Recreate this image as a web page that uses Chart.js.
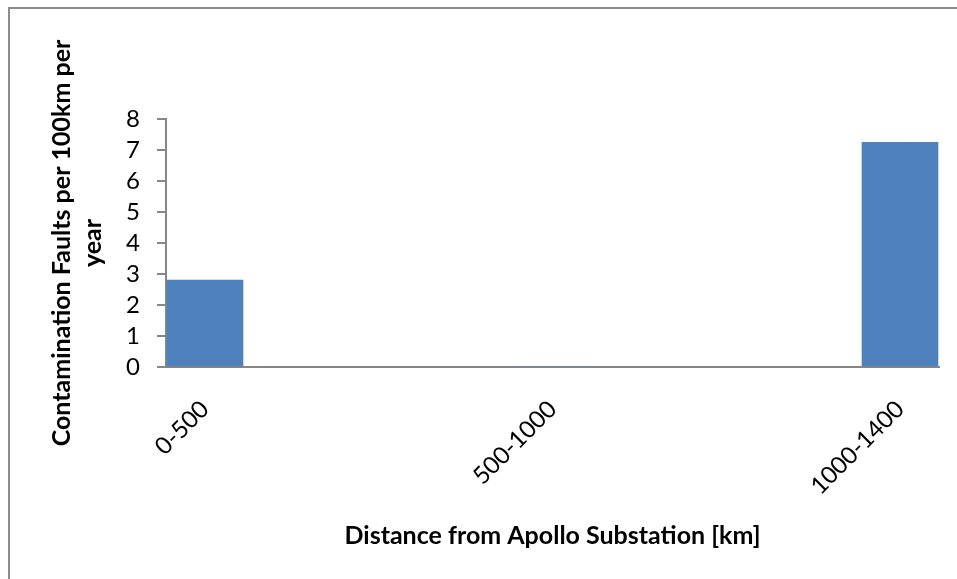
<!DOCTYPE html>
<html>
<head>
<meta charset="utf-8">
<title>Contamination Faults by Distance</title>
<script src="https://cdn.jsdelivr.net/npm/chart.js@4"></script>
<style>
  html, body { margin: 0; padding: 0; background: #fff; overflow: hidden; }
  #frame { position: absolute; left: 8px; top: 7px; width: 1200px; height: 900px; border: 2px solid #8c8c8c; }
  #wrap { position: absolute; left: 0; top: 0; width: 957px; height: 579px; }
</style>
</head>
<body>
<div id="frame"></div>
<div id="wrap"><canvas id="chart" width="957" height="579"></canvas></div>
<script>
// Distance bands from the substation and fault rates per band
const categories = ['0-500', '500-1000', '1000-1400'];
const faultRates = [2.8, 0, 7.25];
const yTickValues = [0, 1, 2, 3, 4, 5, 6, 7, 8];

const AXIS_GREY = '#868686';
const BAR_BLUE = '#4F81BD';
const FONT = 'Lato';
// space on each side of the outer bands, in band units
const EDGE = 0.1122;

const points = categories.map((c, i) => ({ x: i, y: faultRates[i] }));

new Chart(document.getElementById('chart'), {
  type: 'bar',
  data: {
    datasets: [{
      label: 'Contamination Faults',
      data: points,
      backgroundColor: BAR_BLUE,
      borderWidth: 0,
      barThickness: 76
    }]
  },
  options: {
    responsive: false,
    animation: false,
    devicePixelRatio: 1,
    layout: { padding: { left: 0, right: 18, top: 119, bottom: 0 } },
    plugins: { legend: { display: false }, tooltip: { enabled: false } },
    scales: {
      x: {
        type: 'linear',
        offset: false,
        min: -EDGE,
        max: categories.length - 1 + EDGE,
        afterBuildTicks: s => { s.ticks = categories.map((_, i) => ({ value: i })); },
        ticks: {
          callback: v => categories[v],
          minRotation: 45,
          maxRotation: 45,
          autoSkip: false,
          color: '#000',
          font: { family: FONT, size: 24 },
          padding: 20
        },
        grid: { display: false },
        border: { display: true, color: AXIS_GREY, width: 2 },
        title: {
          display: true,
          text: 'Distance from Apollo Substation [km]',
          color: '#000',
          font: { family: FONT, size: 25, weight: 'bold' },
          padding: { top: 0, bottom: 28 }
        },
        afterFit: s => { s.height = 212; }
      },
      y: {
        min: 0,
        max: 8,
        afterBuildTicks: s => { s.ticks = yTickValues.map(v => ({ value: v })); },
        ticks: {
          autoSkip: false,
          color: '#000',
          font: { family: FONT, size: 24 },
          padding: 17
        },
        grid: { drawOnChartArea: false, drawTicks: true, tickLength: 9, color: AXIS_GREY, lineWidth: 2 },
        border: { display: true, color: AXIS_GREY, width: 2 },
        title: {
          display: true,
          text: ['Contamination Faults per 100km per', 'year'],
          color: '#000',
          font: { family: FONT, size: 25, weight: 'bold', lineHeight: 1.24 },
          padding: { top: 46, bottom: 0 }
        },
        afterFit: s => { s.width = 166; }
      }
    }
  }
});
</script>
</body>
</html>
